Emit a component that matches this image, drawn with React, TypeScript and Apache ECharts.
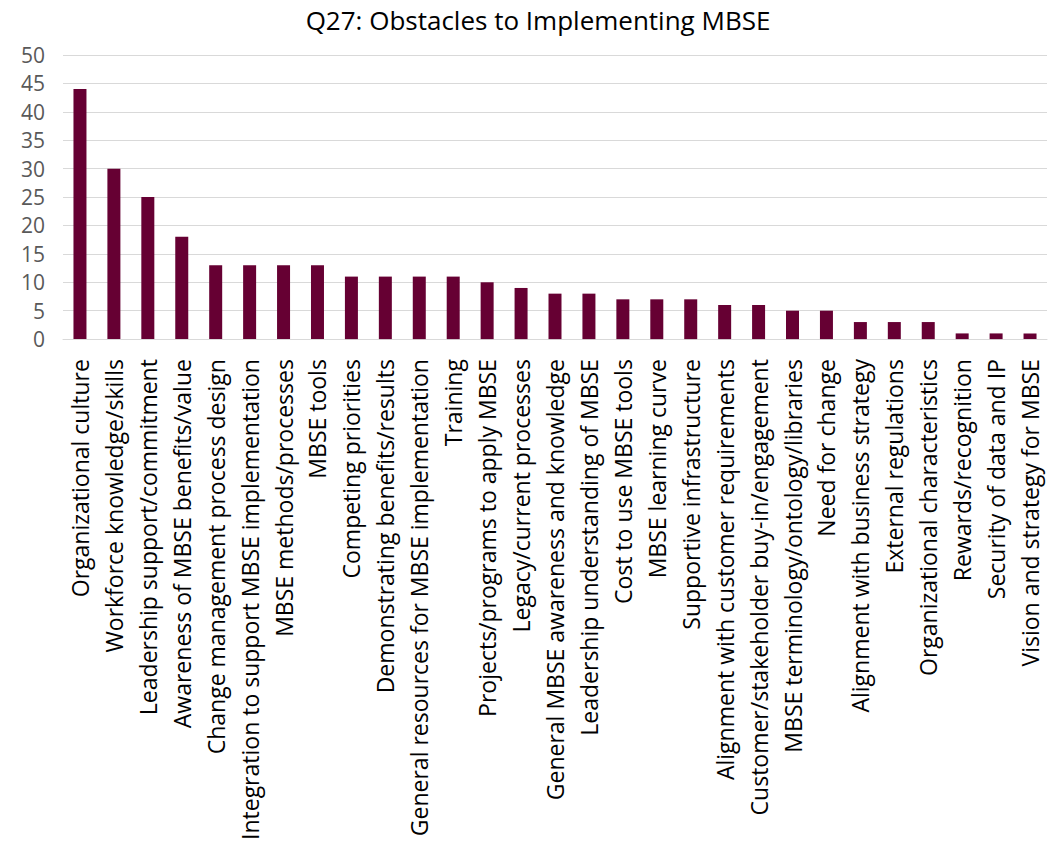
import React, { useEffect, useRef } from "react";
import * as echarts from "echarts";

const categories = [
  "Organizational culture",
  "Workforce knowledge/skills",
  "Leadership support/commitment",
  "Awareness of MBSE benefits/value",
  "Change management process design",
  "Integration to support MBSE implementation",
  "MBSE methods/processes",
  "MBSE tools",
  "Competing priorities",
  "Demonstrating benefits/results",
  "General resources for MBSE implementation",
  "Training",
  "Projects/programs to apply MBSE",
  "Legacy/current processes",
  "General MBSE awareness and knowledge",
  "Leadership understanding of MBSE",
  "Cost to use MBSE tools",
  "MBSE learning curve",
  "Supportive infrastructure",
  "Alignment with customer requirements",
  "Customer/stakeholder buy-in/engagement",
  "MBSE terminology/ontology/libraries",
  "Need for change",
  "Alignment with business strategy",
  "External regulations",
  "Organizational characteristics",
  "Rewards/recognition",
  "Security of data and IP",
  "Vision and strategy for MBSE",
];

const counts = [44, 30, 25, 18, 13, 13, 13, 13, 11, 11, 11, 11, 10, 9, 8, 8, 7, 7, 7, 6, 6, 5, 5, 3, 3, 3, 1, 1, 1];

const titleText = "Q27: Obstacles to Implementing MBSE";

export default function App() {
  const ref = useRef<HTMLDivElement>(null);
  useEffect(() => {
    if (!ref.current) return;
    const chart = echarts.init(ref.current, null, { renderer: "svg" });
    chart.setOption({
      animation: false,
      backgroundColor: "#ffffff",
      title: {
        text: titleText,
        left: 533,
        top: 1,
        textAlign: "center",
        textStyle: {
          fontFamily: "Open Sans",
          fontSize: 26,
          lineHeight: 28,
          fontWeight: "normal",
          color: "#000000",
        },
      },
      grid: { left: 63, right: 5, top: 55, bottom: 503.5, containLabel: false },
      xAxis: {
        type: "category",
        data: categories,
        axisLine: { show: true, lineStyle: { color: "#d9d9d9", width: 1 } },
        axisTick: { show: false },
        axisLabel: {
          rotate: 90,
          interval: 0,
          margin: 20,
          fontFamily: "Open Sans",
          fontSize: 23,
          color: "#000000",
        },
      },
      yAxis: {
        type: "value",
        min: 0,
        max: 50,
        interval: 5,
        axisLine: { show: false },
        axisTick: { show: false },
        splitLine: { show: true, lineStyle: { color: "#d9d9d9", width: 1 } },
        axisLabel: {
          margin: 18,
          fontFamily: "Open Sans",
          fontSize: 21,
          color: "#595959",
        },
      },
      series: [
        {
          type: "bar",
          data: counts,
          barWidth: 13,
          itemStyle: { color: "#660033" },
        },
      ],
    });
    return () => chart.dispose();
  }, []);
  return (
    <div
      ref={ref}
      style={{ position: "absolute", left: 0, top: 0, width: 1052, height: 843 }}
    />
  );
}
